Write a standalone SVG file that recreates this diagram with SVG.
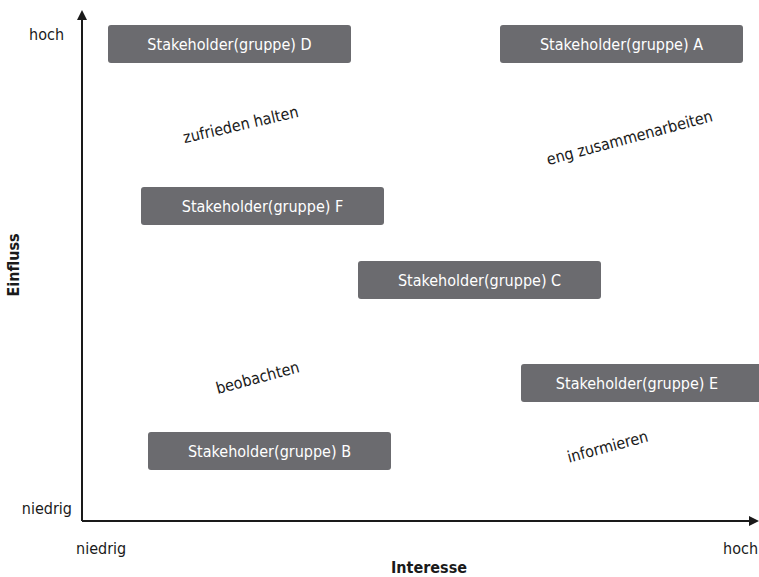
<svg xmlns="http://www.w3.org/2000/svg" width="759" height="577" viewBox="0 0 759 577">
<style>
.box{fill:#6b6b6f}
.bt{fill:#ffffff;font-family:"Liberation Sans Narrow","DejaVu Sans Condensed","Liberation Sans",sans-serif;font-size:16px;text-anchor:middle}
.lb{fill:#1a1a1a;font-family:"Liberation Sans Narrow","DejaVu Sans Condensed","Liberation Sans",sans-serif;font-size:16px}
.ax{stroke:#1a1a1a;stroke-width:2;fill:none}
</style>
<defs>
<marker id="arr" markerWidth="10" markerHeight="10" refX="8" refY="5" orient="auto" markerUnits="userSpaceOnUse">
<path d="M0,0 L10,5 L0,10 z" fill="#1a1a1a"/>
</marker>
</defs>
<rect width="759" height="577" fill="#ffffff"/>
<g id="connectors">
<line class="ax" x1="82" y1="521" x2="82" y2="12" marker-end="url(#arr)"/>
<line class="ax" x1="82" y1="521" x2="757" y2="521" marker-end="url(#arr)"/>
</g>
<g id="axis-labels">
<text class="lb" x="64" y="40" text-anchor="end">hoch</text>
<text class="lb" x="72" y="514" text-anchor="end">niedrig</text>
<text class="lb" x="76" y="554">niedrig</text>
<text class="lb" x="758" y="554" text-anchor="end">hoch</text>
<text class="lb" x="429" y="573" text-anchor="middle" font-weight="bold">Interesse</text>
<text class="lb" transform="translate(19,265) rotate(-90)" text-anchor="middle" font-weight="bold">Einfluss</text>
</g>
<g id="nodeD"><rect class="box" x="108" y="25" width="243" height="38" rx="3"/><text class="bt" x="229.5" y="50">Stakeholder(gruppe) D</text></g>
<g id="nodeA"><rect class="box" x="500" y="25" width="243" height="38" rx="3"/><text class="bt" x="621.5" y="50">Stakeholder(gruppe) A</text></g>
<g id="nodeF"><rect class="box" x="141" y="187" width="243" height="38" rx="3"/><text class="bt" x="262.5" y="212">Stakeholder(gruppe) F</text></g>
<g id="nodeC"><rect class="box" x="358" y="261" width="243" height="38" rx="3"/><text class="bt" x="479.5" y="286">Stakeholder(gruppe) C</text></g>
<g id="nodeE"><rect class="box" x="521" y="364" width="243" height="38" rx="3"/><text class="bt" x="637" y="389">Stakeholder(gruppe) E</text></g>
<g id="nodeB"><rect class="box" x="148" y="432" width="243" height="38" rx="3"/><text class="bt" x="269.5" y="457">Stakeholder(gruppe) B</text></g>
<g id="quadrants">
<text class="lb" text-anchor="middle" transform="translate(242,130) rotate(-13)">zufrieden halten</text>
<text class="lb" text-anchor="middle" transform="translate(631,143) rotate(-15)">eng zusammenarbeiten</text>
<text class="lb" text-anchor="middle" transform="translate(259,383) rotate(-15)">beobachten</text>
<text class="lb" text-anchor="middle" transform="translate(609,452) rotate(-15)">informieren</text>
</g>
</svg>
